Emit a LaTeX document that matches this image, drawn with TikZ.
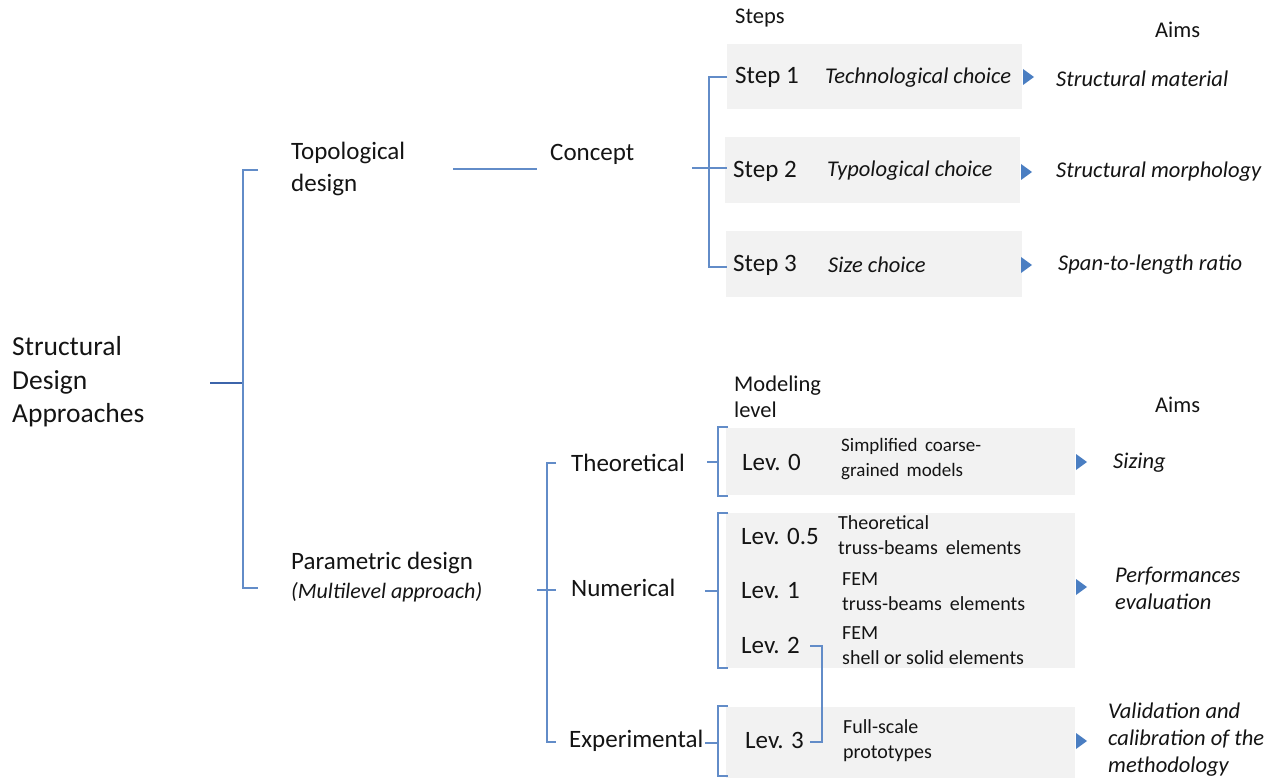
\documentclass[tikz,border=0pt]{standalone}
\usepackage{fontspec}
\setmainfont{Carlito}
\definecolor{lineblue}{RGB}{98,140,200}
\definecolor{darkblue}{RGB}{60,100,170}
\definecolor{triblue}{RGB}{74,126,194}
\definecolor{boxgray}{RGB}{242,242,242}
\definecolor{txt}{RGB}{20,20,20}
\tikzset{
  lbl/.style={anchor=west,inner sep=0pt,align=left,text=txt,font=\fontsize{25}{33}\selectfont},
  hdr/.style={anchor=west,inner sep=0pt,align=left,text=txt,font=\fontsize{22.5}{26}\selectfont},
  itl/.style={anchor=west,inner sep=0pt,align=left,text=txt,font=\fontsize{22.5}{27}\selectfont\itshape},
  desc/.style={anchor=west,inner sep=0pt,align=left,text=txt,font=\fontsize{20}{25}\selectfont},
  gbox/.style={fill=boxgray,draw=none,anchor=north west,inner sep=0pt},
  ln/.style={draw=lineblue,line width=1.2pt},
  thk/.style={draw=darkblue,line width=1.8pt},
}
\newcommand{\mytri}[3]{\fill[triblue] (#2,#3-8) -- (#2+11,#3) -- (#2,#3+8) -- cycle; \coordinate (#1) at (#2,#3);}
\begin{document}
\begin{tikzpicture}[x=1pt,y=-1pt]
\useasboundingbox (0,0) rectangle (1273,778);
% gray boxes
\node[gbox,minimum width=295pt,minimum height=65pt] (b1) at (727,44) {};
\node[gbox,minimum width=295pt,minimum height=66pt] (b2) at (725,137) {};
\node[gbox,minimum width=296pt,minimum height=66pt] (b3) at (726,231) {};
\node[gbox,minimum width=349pt,minimum height=67pt] (b4) at (726,428) {};
\node[gbox,minimum width=349pt,minimum height=155pt] (b5) at (726,513) {};
\node[gbox,minimum width=349pt,minimum height=71pt] (b6) at (726,707) {};

% left part
\node[lbl,font=\fontsize{27.5}{33.5}\selectfont] (sda) at (12,382) {Structural\\Design\\Approaches};
\node[lbl,align=left,font=\fontsize{25}{32}\selectfont] (topo) at (291,169) {Topological\\design};
\node[lbl] (param) at (291,563) {Parametric design};
\node[itl,font=\fontsize{22}{26}\selectfont\itshape] (multi) at (291,592) {(Multilevel approach)};
\node[lbl] (concept) at (550,154) {Concept};

% headers
\node[hdr] (steps) at (735,18) {Steps};
\node[hdr] (aims1) at (1155,30) {Aims};
\node[hdr] (model) at (734,397) {Modeling\\level};
\node[hdr] (aims2) at (1155,405) {Aims};

% steps
\node[lbl] (s1) at (735,77) {Step 1};
\node[itl] (c1) at (825,78) {Technological choice};
\node[lbl] (s2) at (733,171) {Step 2};
\node[itl] (c2) at (827,171) {Typological choice};
\node[lbl] (s3) at (733,265) {Step 3};
\node[itl] (c3) at (828,265) {Size choice};
\mytri{t1}{1023}{77}
\mytri{t2}{1021}{172}
\mytri{t3}{1021}{265}
\node[itl] (a1) at (1056,79) {Structural material};
\node[itl] (a2) at (1056,172) {Structural morphology};
\node[itl] (a3) at (1058,265) {Span-to-length ratio};

% methods
\node[lbl] (theo) at (571,463) {Theoretical};
\node[lbl] (num) at (571,588) {Numerical};
\node[lbl] (exp) at (569,741) {Experimental};

% levels
\node[lbl] (l0) at (742,462) {Lev. 0};
\node[desc,font=\fontsize{19}{25}\selectfont] (d0) at (841,459.5) {Simplified\ \,coarse-\\grained\ \,models};
\node[lbl] (l05) at (741,536) {Lev. 0.5};
\node[desc] (d05) at (838,535.5) {Theoretical\\truss-beams\ \,elements};
\node[lbl] (l1) at (741,591) {Lev. 1};
\node[desc] (d1) at (842,591.5) {FEM\\truss-beams\ \,elements};
\node[lbl] (l2) at (741,645) {Lev. 2};
\node[desc] (d2) at (842,646) {FEM\\shell or solid elements};
\node[lbl] (l3) at (745,740) {Lev. 3};
\node[desc] (d3) at (843,741) {Full-scale\\prototypes};
\mytri{t4}{1076}{462}
\mytri{t5}{1076}{587}
\mytri{t6}{1076}{741}
\node[itl] (a4) at (1113,463) {Sizing};
\node[itl] (a5) at (1115,588.5) {Performances\\evaluation};
\node[itl] (a6) at (1108,740) {Validation and\\calibration of the\\methodology};

% main bracket
\coordinate (m0) at (210,383);
\coordinate (mj) at (243,383);
\coordinate (mt) at (243,170);
\coordinate (mb) at (243,588);
\draw[thk] (m0) -- (mj);
\draw[ln] (258,170) -- (mt) -- (mb) -- (258,588);

% topological to concept
\coordinate (tc0) at (453,169);
\coordinate (tc1) at (537,169);
\draw[ln] (tc0) -- (tc1);

% steps bracket
\coordinate (sj) at (709,168);
\draw[ln] (692,168) -- (sj) -- (727,168);
\draw[ln] (727,77) -- (709,77) -- (709,267) -- (727,267);

% parametric bracket
\coordinate (pj) at (547,590);
\draw[ln] (537,590) -- (pj) -- (556,590);
\draw[ln] (556,463) -- (547,463) -- (547,742) -- (556,742);

% theoretical bracket
\coordinate (thj) at (718,462);
\draw[ln] (707,462) -- (thj);
\draw[ln] (728,427) -- (718,427) -- (718,496) -- (728,496);
% numerical bracket
\coordinate (nj) at (718,591);
\draw[ln] (705,591) -- (nj);
\draw[ln] (728,513) -- (718,513) -- (718,668) -- (728,668);
% experimental bracket
\coordinate (ej) at (718,743);
\draw[ln] (705,743) -- (ej);
\draw[ln] (728,706) -- (718,706) -- (718,776) -- (728,776);

% lev2 - lev3 link
\coordinate (k2) at (810,646);
\coordinate (k3) at (810,742);
\draw[ln] (k2) -- (822,646) -- (822,742) -- (k3);
\end{tikzpicture}
\end{document}
